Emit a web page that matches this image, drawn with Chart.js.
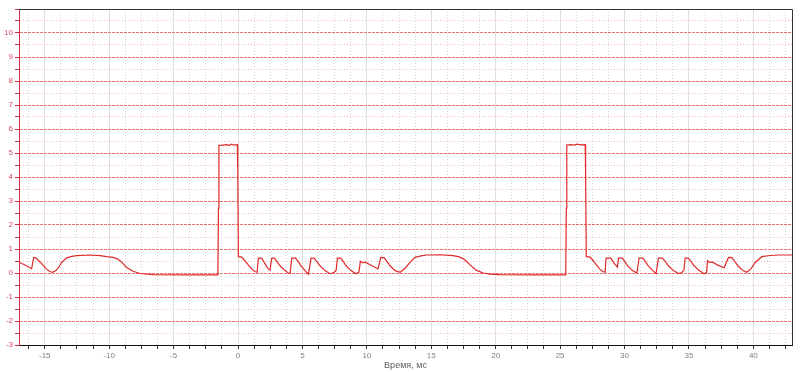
<!DOCTYPE html>
<html>
<head>
<meta charset="utf-8">
<script src="https://cdn.jsdelivr.net/npm/chart.js@4"></script>
<style>
  body { margin: 0; background: #fff; }
  canvas { display: block; }
</style>
</head>
<body>
<canvas id="scope" width="800" height="372"></canvas>
<script>
// time axis, ms
const timeMs = [
    -17.0, -16.5, -16.02, -15.86, -15.68, -15.45, -15.24, -14.91, -14.6, -14.4,
    -14.13, -13.9, -13.69, -13.3, -12.9, -12.52, -11.5, -10.7, -10.2, -9.7,
    -9.4, -9.16, -8.9, -8.64, -8.15, -7.61, -6.6, -4.0, -1.56, -1.52,
    -1.48, -1.2, -0.9, -0.7, -0.5, -0.3, -0.05, -0.02, 0.03, 0.3,
    0.55, 0.78, 1.09, 1.35, 1.48, 1.58, 1.84, 2.1, 2.3, 2.48,
    2.62, 2.82, 3.05, 3.26, 3.65, 3.9, 4.04, 4.17, 4.48, 4.7,
    4.89, 5.2, 5.46, 5.67, 5.9, 6.15, 6.37, 6.75, 7.14, 7.45,
    7.62, 7.71, 7.97, 8.2, 8.39, 8.77, 9.16, 9.38, 9.5, 9.7,
    9.86, 10.3, 10.87, 11.08, 11.34, 11.6, 11.8, 12.19, 12.58, 12.97,
    13.35, 13.74, 14.2, 14.67, 15.68, 16.69, 17.1, 17.47, 17.75, 18.01,
    18.48, 19.02, 19.57, 20.34, 23.0, 25.44, 25.48, 25.52, 25.8, 26.1,
    26.3, 26.6, 26.95, 26.98, 27.03, 27.33, 27.58, 27.8, 28.1, 28.35,
    28.49, 28.57, 28.94, 29.2, 29.45, 29.53, 29.84, 30.05, 30.25, 30.62,
    30.96, 31.13, 31.42, 31.65, 31.85, 32.2, 32.45, 32.63, 32.94, 33.2,
    33.4, 33.8, 34.18, 34.45, 34.62, 34.7, 34.96, 35.2, 35.4, 35.8,
    36.18, 36.38, 36.44, 36.6, 36.8, 37.2, 37.73, 38.07, 38.33, 38.6,
    38.8, 39.2, 39.5, 39.85, 40.14, 40.66, 41.3, 42.0, 43.0
];

// signal, V
const signalV = [
    0.45, 0.32, 0.18, 0.65, 0.63, 0.5, 0.39, 0.18, 0.06, 0.03,
    0.1, 0.25, 0.44, 0.63, 0.69, 0.72, 0.75, 0.72, 0.68, 0.65,
    0.6, 0.51, 0.38, 0.23, 0.07, -0.02, -0.07, -0.08, -0.08, 2.7,
    5.32, 5.33, 5.35, 5.32, 5.37, 5.33, 5.35, 4.3, 0.68, 0.66,
    0.5, 0.35, 0.15, 0.05, 0.03, 0.62, 0.62, 0.38, 0.2, 0.12,
    0.62, 0.62, 0.45, 0.3, 0.1, 0.0, -0.02, 0.62, 0.62, 0.45,
    0.3, 0.1, -0.05, 0.62, 0.62, 0.45, 0.3, 0.1, -0.03, 0.02,
    0.12, 0.62, 0.62, 0.45, 0.3, 0.1, -0.03, 0.03, 0.49, 0.42,
    0.45, 0.33, 0.17, 0.65, 0.64, 0.45, 0.3, 0.1, 0.03, 0.2,
    0.44, 0.65, 0.71, 0.75, 0.76, 0.72, 0.68, 0.6, 0.48, 0.34,
    0.12, 0.0, -0.05, -0.07, -0.08, -0.08, 2.7, 5.33, 5.35, 5.33,
    5.37, 5.34, 5.35, 4.2, 0.68, 0.66, 0.5, 0.35, 0.15, 0.05,
    0.03, 0.62, 0.62, 0.4, 0.25, 0.62, 0.62, 0.45, 0.3, 0.1,
    0.0, 0.62, 0.62, 0.45, 0.3, 0.1, -0.02, 0.62, 0.62, 0.45,
    0.3, 0.1, -0.02, 0.02, 0.12, 0.62, 0.62, 0.45, 0.3, 0.1,
    -0.03, 0.03, 0.52, 0.44, 0.46, 0.34, 0.22, 0.65, 0.64, 0.45,
    0.3, 0.1, 0.03, 0.2, 0.44, 0.68, 0.73, 0.75, 0.75
];

const xLabeled = [-15, -10, -5, 0, 5, 10, 15, 20, 25, 30, 35, 40];
const yLabeled = [-3, -2, -1, 0, 1, 2, 3, 4, 5, 6, 7, 8, 9, 10];
const xMinorStep = 1.25;
const yMinorStep = 0.5;
const xRange = [-17, 43];
const yRange = [-3, 11];

function stepTicks(from, to, step) {
    const ticks = [];
    for (let v = Math.ceil(from / step) * step; v <= to + 1e-9; v += step) {
        ticks.push({ value: Math.round(v * 1000) / 1000 });
    }
    return ticks;
}

const isMajor = (v, list) => list.some(m => Math.abs(m - v) < 1e-6);

// frame on top and right like the scope window
const framePlugin = {
    id: "frame",
    afterDraw(chart) {
        const { ctx, chartArea: a } = chart;
        ctx.save();
        ctx.strokeStyle = "#333";
        ctx.lineWidth = 1;
        ctx.beginPath();
        ctx.moveTo(a.left, a.top + 0.5);
        ctx.lineTo(a.right + 0.5, a.top + 0.5);
        ctx.lineTo(a.right + 0.5, a.bottom);
        ctx.stroke();
        ctx.restore();
    }
};

new Chart(document.getElementById("scope"), {
    type: "line",
    data: {
        datasets: [{
            data: timeMs.map((t, i) => ({ x: t, y: signalV[i] })),
            borderColor: "#dd2a2a",
            borderWidth: 1.2,
            pointRadius: 0,
            tension: 0,
            fill: false,
        }],
    },
    options: {
        responsive: false,
        animation: false,
        layout: { padding: { top: 9, right: 8, left: 0, bottom: 0 } },
        plugins: { legend: { display: false }, tooltip: { enabled: false } },
        scales: {
            x: {
                type: "linear",
                min: xRange[0],
                max: xRange[1],
                afterBuildTicks: (scale) => { scale.ticks = stepTicks(xRange[0], xRange[1], xMinorStep); },
                afterFit: (scale) => { scale.height = 27; },
                ticks: {
                    autoSkip: false,
                    maxRotation: 0,
                    padding: 2,
                    color: "#808080",
                    font: { family: "Liberation Sans", size: 8 },
                    callback: (v) => isMajor(v, xLabeled) ? String(v) : "",
                },
                grid: {
                    color: (c) => isMajor(c.tick.value, xLabeled) ? "#e0e0e0" : "#d6d6d6",
                    lineWidth: 1,
                    tickLength: 4,
                    tickColor: "#333",
                },
                border: {
                    color: "#111",
                    width: 1,
                    dash: (c) => (c.tick && isMajor(c.tick.value, xLabeled)) ? [] : [1, 2],
                },
                title: {
                    display: true,
                    text: "Время, мс",
                    color: "#606060",
                    font: { family: "Liberation Sans", size: 9 },
                    padding: { top: 0, bottom: 1 },
                },
            },
            y: {
                type: "linear",
                min: yRange[0],
                max: yRange[1],
                afterBuildTicks: (scale) => { scale.ticks = stepTicks(yRange[0], yRange[1], yMinorStep); },
                afterFit: (scale) => { scale.width = 19; },
                ticks: {
                    autoSkip: false,
                    padding: 2,
                    color: "#d04a60",
                    font: { family: "Liberation Sans", size: 8 },
                    callback: (v) => isMajor(v, yLabeled) ? String(v) : "",
                },
                grid: {
                    color: (c) => Number.isInteger(c.tick.value) ? "#ee7272" : "#f5bcbc",
                    lineWidth: 1,
                    tickLength: 4,
                    tickColor: "#c83048",
                },
                border: {
                    color: "#c83048",
                    width: 1,
                    dash: (c) => (c.tick && Number.isInteger(c.tick.value)) ? [3, 1] : [1, 2],
                },
            },
        },
    },
    plugins: [framePlugin],
});
</script>
</body>
</html>
